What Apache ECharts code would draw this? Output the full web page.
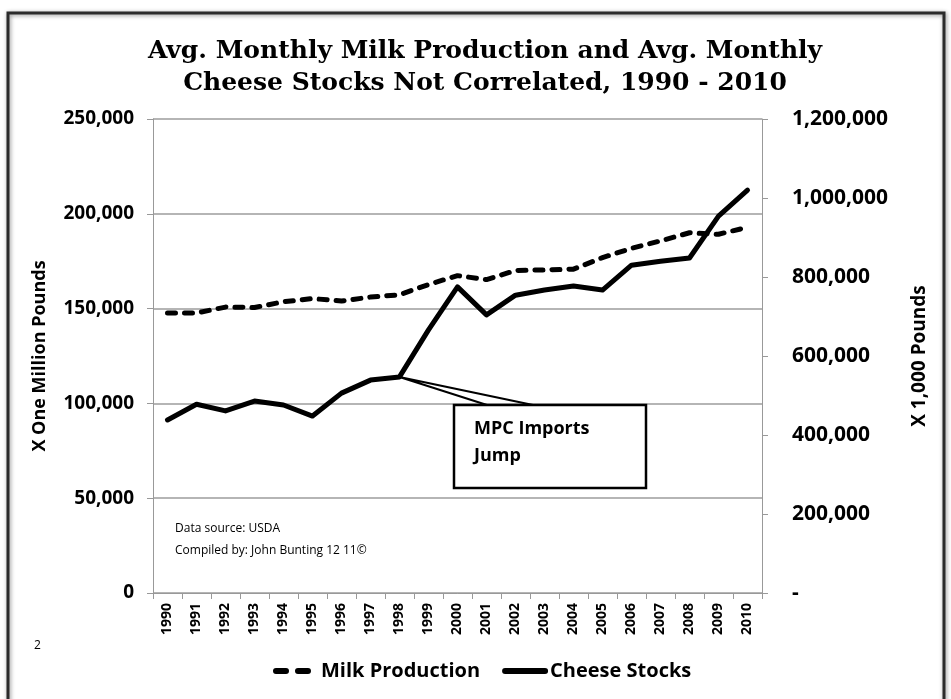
<!DOCTYPE html>
<html><head><meta charset="utf-8">
<script src="https://cdn.jsdelivr.net/npm/echarts@6/dist/echarts.min.js"></script>
<style>html,body{margin:0;padding:0;background:#fff}#c{width:951px;height:699px}</style>
</head><body><div id="c"></div>
<script>
const years = ['1990','1991','1992','1993','1994','1995','1996','1997','1998','1999','2000','2001','2002','2003','2004','2005','2006','2007','2008','2009','2010'];
const milkProduction = [147700,147700,150800,150600,153600,155300,154000,156100,157300,162700,167400,165300,170100,170400,170800,176900,181800,185700,190000,189200,192900];
const cheeseStocks = [438000,478000,461000,486000,476000,448000,506000,539000,547000,666000,775000,704000,754000,767000,777000,767000,830000,840000,848000,954000,1020000];
const titleLines = ['Avg. Monthly Milk Production and Avg. Monthly', 'Cheese Stocks Not Correlated, 1990 - 2010'];
const calloutText = 'MPC Imports\nJump';
const sourceLines = ['Data source: USDA', 'Compiled by: John Bunting 12 11©'];
const calloutYear = '1998';

const FONT = 'Open Sans';
const chart = echarts.init(document.getElementById('c'), null, {renderer: 'canvas'});
const fmt = v => v.toLocaleString('en-US');

function buildGraphic(anchor) {
  const g = [
    {type: 'rect', id: 'frame', z: 0, silent: true,
     shape: {x: 8, y: 13, width: 936, height: 720},
     style: {fill: 'none', stroke: '#2b2b2b', lineWidth: 3, shadowBlur: 4, shadowColor: 'rgba(0,0,0,0.45)', shadowOffsetX: 1, shadowOffsetY: 1}},
    {type: 'text', id: 'src', left: 175, top: 518, z: 10,
     style: {text: sourceLines.join('\n'), font: '12px "' + FONT + '"', fill: '#000', lineHeight: 22}},
    {type: 'text', id: 'pg', left: 34, top: 640, z: 10,
     style: {text: '2', font: '12px "' + FONT + '"', fill: '#000'}}
  ];
  if (anchor) {
    g.push({type: 'polyline', id: 'ptr', z: 20,
      shape: {points: [[487, 405], anchor, [533, 405]]},
      style: {stroke: '#000', lineWidth: 2, fill: 'none'}});
    g.push({type: 'rect', id: 'box', z: 21,
      shape: {x: 454, y: 405, width: 192, height: 83},
      style: {fill: '#fff', stroke: '#000', lineWidth: 2.5}});
    g.push({type: 'text', id: 'ctext', z: 22, left: 474, top: 415,
      style: {text: calloutText, font: 'bold 18px "' + FONT + '"', fill: '#000', lineHeight: 27}});
  }
  return g;
}

const option = {
  backgroundColor: '#fff',
  animation: false,
  title: {
    text: titleLines.join('\n'),
    left: 480, top: 30, textAlign: 'center',
    textStyle: {fontFamily: 'DejaVu Serif', fontWeight: 'bold', fontSize: 25, color: '#000', lineHeight: 32}
  },
  legend: {
    bottom: 13, left: 268,
    itemWidth: 40, itemHeight: 14, itemGap: 22,
    itemStyle: {opacity: 0},
    lineStyle: {width: 6},
    textStyle: {fontFamily: FONT, fontWeight: 'bold', fontSize: 20, color: '#000'},
    data: [
      {name: 'Milk Production', lineStyle: {width: 6, type: [10, 12], cap: 'round'}},
      {name: 'Cheese Stocks', lineStyle: {width: 6, cap: 'round'}}
    ]
  },
  grid: {left: 153, right: 189, top: 119, bottom: 106, containLabel: false},
  xAxis: {
    type: 'category', data: years, boundaryGap: true,
    axisLine: {lineStyle: {color: '#999', width: 1}},
    axisTick: {show: true, length: 6, interval: 0, lineStyle: {color: '#999'}},
    axisLabel: {rotate: 90, interval: 0, fontFamily: FONT, fontWeight: 'bold', fontSize: 14, color: '#000', margin: 10}
  },
  yAxis: [
    {type: 'value', min: 0, max: 250000, interval: 50000, position: 'left',
     name: 'X One Million Pounds', nameLocation: 'middle', nameGap: 104, nameRotate: 90,
     nameTextStyle: {fontFamily: FONT, fontWeight: 'bold', fontSize: 18, color: '#000'},
     axisLine: {show: true, lineStyle: {color: '#999'}},
     axisTick: {show: true, length: 6, lineStyle: {color: '#999'}},
     axisLabel: {formatter: fmt, fontFamily: FONT, fontWeight: 'bold', fontSize: 19, color: '#000', margin: 19},
     splitLine: {show: true, lineStyle: {color: '#b5b5b5', width: 2}}},
    {type: 'value', min: 0, max: 1200000, interval: 200000, position: 'right',
     name: 'X 1,000 Pounds', nameLocation: 'middle', nameGap: 148, nameRotate: 90,
     nameTextStyle: {fontFamily: FONT, fontWeight: 'bold', fontSize: 19, color: '#000'},
     axisLine: {show: true, lineStyle: {color: '#999'}},
     axisTick: {show: true, length: 6, lineStyle: {color: '#999'}},
     axisLabel: {formatter: v => v === 0 ? '-' : fmt(v), fontFamily: FONT, fontWeight: 'bold', fontSize: 21, color: '#000', margin: 30},
     splitLine: {show: false}}
  ],
  series: [
    {name: 'Milk Production', type: 'line', yAxisIndex: 0, data: milkProduction,
     symbol: 'none', showSymbol: false, z: 5,
     lineStyle: {color: '#000', width: 5, type: [8, 9], cap: 'round'},
     itemStyle: {color: '#000'}},
    {name: 'Cheese Stocks', type: 'line', yAxisIndex: 1, data: cheeseStocks,
     symbol: 'none', showSymbol: false, z: 6,
     lineStyle: {color: '#000', width: 5, cap: 'round', join: 'round'},
     itemStyle: {color: '#000'}}
  ],
  graphic: buildGraphic(null)
};
chart.setOption(option);
const idx = years.indexOf(calloutYear);
const anchor = chart.convertToPixel({xAxisIndex: 0, yAxisIndex: 1}, [calloutYear, cheeseStocks[idx]]);
chart.setOption({graphic: buildGraphic(anchor)});
</script></body></html>
